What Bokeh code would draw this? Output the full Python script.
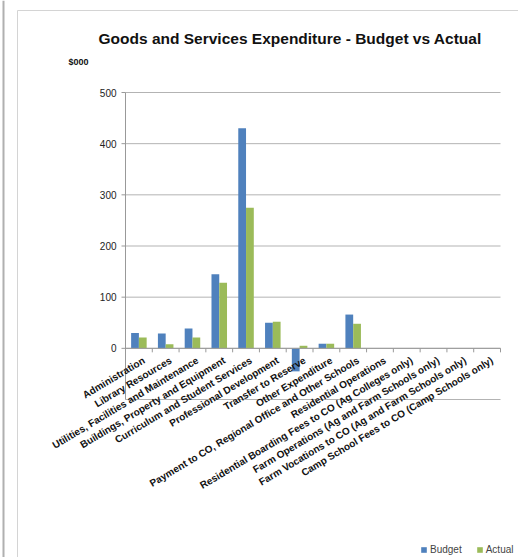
import math
from bokeh.plotting import figure
from bokeh.models import ColumnDataSource, Range1d, Legend, LegendItem, Label
from bokeh.transform import dodge
from bokeh.core.properties import value
from bokeh.embed import file_html
from bokeh.resources import INLINE

categories = [
    "Administration",
    "Library Resources",
    "Utilities, Facilities and Maintenance",
    "Buildings, Property and Equipment",
    "Curriculum and Student Services",
    "Professional Development",
    "Transfer to Reserve",
    "Other Expenditure",
    "Payment to CO, Regional Office and Other Schools",
    "Residential Operations",
    "Residential Boarding Fees to CO (Ag Colleges only)",
    "Farm Operations (Ag and Farm Schools only)",
    "Farm Vocations to CO (Ag and Farm Schools only)",
    "Camp School Fees to CO (Camp Schools only)",
]
budget = [30, 29, 39, 145, 430, 50, -45, 9, 66, 0, 0, 0, 0, 0]
actual = [21, 8, 21, 128, 275, 52, 5, 9, 48, 0, 0, 0, 0, 0]
y_ticks = [0, 100, 200, 300, 400, 500]
y_min, y_max = -100, 500

BLUE = "#4F81BD"
GREEN = "#9BBB59"
GRID = "#B3B3B3"
AXIS = "#999999"
FONT = "Liberation Sans"

W, H = 518, 557
# plot-area pixel box inside the canvas (layout only)
PL, PR, PT, PB = 125, 500, 92, 399

n = len(categories)
idx = list(range(n))
x_lo, x_hi = -0.5, n - 0.5
ux = (PR - PL) / (x_hi - x_lo)
uy = (PB - PT) / (y_max - y_min)
x_range = Range1d(x_lo - PL / ux, x_hi + (W - PR) / ux)
y_range = Range1d(y_min - (H - PB) / uy, y_max + PT / uy)


def px_x(px):
    return x_range.start + px / ux


def px_y(py):
    return y_range.end - py / uy


src = ColumnDataSource(dict(x=idx, cat=categories, budget=budget, actual=actual,
                            zero=[0] * n))

p = figure(width=W, height=H, x_range=x_range, y_range=y_range,
           output_backend="svg", toolbar_location=None,
           min_border=0, x_axis_type=None, y_axis_type=None)
p.outline_line_color = None
p.grid.visible = False
p.background_fill_color = "white"
p.border_fill_color = "white"

# chart-area frame (decorative)
p.segment(x0=[px_x(17), px_x(17)], x1=[px_x(W), px_x(17)],
          y0=[px_y(10), px_y(10)], y1=[px_y(10), px_y(H)],
          line_color="#D4D4D4", line_width=1)
p.segment(x0=[px_x(3)], x1=[px_x(3)], y0=[px_y(0)], y1=[px_y(H)],
          line_color="#B0B0B0", line_width=2)

# gridlines
grid_vals = [y_min] + y_ticks
p.segment(x0=[x_lo] * len(grid_vals), x1=[x_hi] * len(grid_vals), y0=grid_vals, y1=grid_vals,
          line_color=GRID, line_width=1)

b = p.vbar(x=dodge("x", -0.145), top="budget", width=0.29, source=src,
           fill_color=BLUE, line_color=None)
a = p.vbar(x=dodge("x", 0.145), top="actual", width=0.29, source=src,
           fill_color=GREEN, line_color=None)

# value axis
p.segment(x0=[x_lo], x1=[x_lo], y0=[y_min], y1=[y_max], line_color=AXIS, line_width=1)
p.segment(x0=[x_lo - 4 / ux] * len(y_ticks), x1=[x_lo] * len(y_ticks), y0=y_ticks, y1=y_ticks,
          line_color=AXIS, line_width=1)
p.text(x=[x_lo] * len(y_ticks), y=y_ticks, text=[str(t) for t in y_ticks],
       x_offset=-9, text_align="right", text_baseline="middle",
       text_font=value(FONT), text_font_size="10px", text_color="#222222")

# category axis at zero
p.segment(x0=[x_lo], x1=[x_hi], y0=[0], y1=[0], line_color=AXIS, line_width=1)
bounds = [i - 0.5 for i in range(n + 1)]
p.segment(x0=bounds, x1=bounds, y0=[0] * len(bounds), y1=[-4 / uy] * len(bounds),
          line_color=AXIS, line_width=1)
p.text(x="x", y="zero", text="cat", source=src,
       angle=math.radians(31), text_align="right", text_baseline="middle",
       x_offset=5, y_offset=11, text_font=value(FONT), text_font_style="bold",
       text_font_size="10px", text_color="#111111")

# titles
p.add_layout(Label(x=98, y=H - 38, x_units="screen", y_units="screen",
                   text="Goods and Services Expenditure - Budget vs Actual",
                   text_font=FONT, text_font_style="bold", text_font_size="15.5px",
                   text_color="#111111", text_baseline="middle"))
p.add_layout(Label(x=68, y=H - 61, x_units="screen", y_units="screen", text="$000",
                   text_font=FONT, text_font_style="bold", text_font_size="9px",
                   text_color="#111111", text_baseline="middle"))

legend = Legend(items=[LegendItem(label="Budget", renderers=[b]),
                       LegendItem(label="Actual", renderers=[a])],
                orientation="horizontal", location=(420, 2),
                label_text_font=FONT, label_text_font_size="10px",
                glyph_width=7, glyph_height=7, spacing=14, label_standoff=3,
                border_line_color=None, background_fill_alpha=0, padding=2, margin=0)
p.add_layout(legend)

open("out.html", "w").write(file_html(p, INLINE))
